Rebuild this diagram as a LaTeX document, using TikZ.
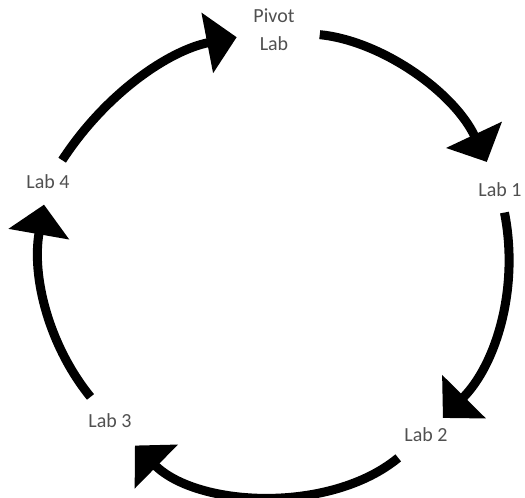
\documentclass[tikz,border=0pt]{standalone}
\usepackage{fontspec}
\setmainfont{Carlito}
\usepackage{tikz}
\usetikzlibrary{arrows.meta}
\definecolor{labgray}{RGB}{80,80,80}
\tikzset{
    lab/.style={text=labgray, font=\fontsize{20}{28}\selectfont, align=center, inner sep=0pt},
    handoff/.style={-{Triangle[length=30pt, width=60pt]}, line width=9pt} }

\begin{document}
\begin{tikzpicture}[x=1pt, y=1pt]
      \useasboundingbox (0,0) rectangle (525,498);
      \node[lab] (pivot) at (274,468) {Pivot\\Lab};
      \node[lab] (lab1) at (500,308) {Lab 1};
      \node[lab] (lab2) at (426,63) {Lab 2};
      \node[lab] (lab3) at (110,77) {Lab 3};
      \node[lab] (lab4) at (48,316) {Lab 4};
      % ----
      \draw[handoff, shorten <=46pt, shorten >=31pt]
          (pivot.center) to[bend left=29.5] (lab1.center);
      \draw[handoff, shorten <=23pt, shorten >=24pt]
          (lab1.center) to[bend left=28] (lab2.center);
      \draw[handoff, shorten <=36pt, shorten >=35pt]
          (lab2.center) to[bend left=42] (lab3.center);
      \draw[handoff, shorten <=31pt, shorten >=23pt]
          (lab3.center) to[bend left=24.5] (lab4.center);
      \draw[handoff, shorten <=26pt, shorten >=38pt]
          (lab4.center) to[bend left=23] (pivot.center);
\end{tikzpicture}
\end{document}
